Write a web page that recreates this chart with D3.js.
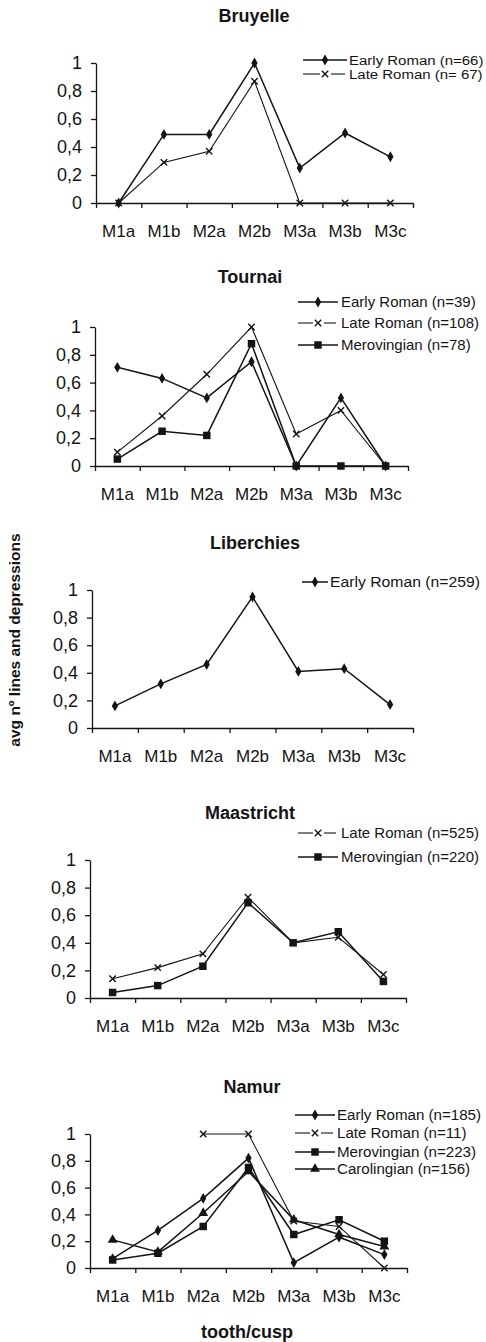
<!DOCTYPE html>
<html><head><meta charset="utf-8">
<script src="https://cdn.jsdelivr.net/npm/d3@7"></script>
<style>
html,body{margin:0;padding:0;background:#fff;}
svg{display:block;font-family:"Liberation Sans",Arial,Helvetica,sans-serif;}
</style>
</head><body>
<svg id="chart" width="486" height="1342"></svg>
<script>
// ---------- DATA ----------
const categories = ["M1a","M1b","M2a","M2b","M3a","M3b","M3c"];
const yTickValues = [0,0.2,0.4,0.6,0.8,1];
const yTickLabels = ["0","0,2","0,4","0,6","0,8","1"];
const siteTitles = ["Bruyelle","Tournai","Liberchies","Maastricht","Namur"];
const yAxisTitle = "avg nº lines and depressions";
const xAxisTitle = "tooth/cusp";

const bruyelleEarlyRoman = [0,0.49,0.49,1.0,0.25,0.50,0.33];
const bruyelleLateRoman  = [0,0.29,0.37,0.87,0,0,0];
const bruyelleLegend = ["Early Roman (n=66)","Late Roman (n= 67)"];

const tournaiEarlyRoman   = [0.71,0.63,0.49,0.75,0,0.49,0];
const tournaiLateRoman    = [0.10,0.36,0.66,1.0,0.23,0.40,0];
const tournaiMerovingian  = [0.05,0.25,0.22,0.88,0,0,0];
const tournaiLegend = ["Early Roman (n=39)","Late Roman (n=108)","Merovingian (n=78)"];

const liberchiesEarlyRoman = [0.16,0.32,0.46,0.95,0.41,0.43,0.17];
const liberchiesLegend = ["Early Roman (n=259)"];

const maastrichtLateRoman   = [0.14,0.22,0.32,0.73,0.40,0.44,0.17];
const maastrichtMerovingian = [0.04,0.09,0.23,0.69,0.40,0.48,0.12];
const maastrichtLegend = ["Late Roman (n=525)","Merovingian (n=220)"];

const namurEarlyRoman   = [0.07,0.28,0.52,0.82,0.04,0.23,0.10];
const namurLateRoman    = [null,null,1.0,1.0,0.35,0.31,0];
const namurMerovingian  = [0.06,0.11,0.31,0.75,0.25,0.36,0.20];
const namurCarolingian  = [0.21,0.12,0.41,0.72,0.36,0.25,0.16];
const namurLegend = ["Early Roman (n=185)","Late Roman (n=11)","Merovingian (n=223)","Carolingian (n=156)"];

// ---------- LAYOUT ----------
const panels = [
  {title: siteTitles[0], tx:254, ty:22, x0:96, x1:413, yTop:63, yBot:203,
   leg:{x:303, x2:347, tx:349, ys:[60,74], fs:13.5, sx:1.11},
   series:[{v:bruyelleEarlyRoman, m:"diamond", w:1.5, lab:bruyelleLegend[0]},
           {v:bruyelleLateRoman, m:"cross", w:1.1, lab:bruyelleLegend[1]}]},
  {title: siteTitles[1], tx:250, ty:283, x0:95, x1:408, yTop:327, yBot:466,
   leg:{x:298, x2:338, tx:341, ys:[302,323,345], fs:15, sx:1},
   series:[{v:tournaiEarlyRoman, m:"diamond", w:1.5, lab:tournaiLegend[0]},
           {v:tournaiLateRoman, m:"cross", w:1.1, lab:tournaiLegend[1]},
           {v:tournaiMerovingian, m:"square", w:1.5, lab:tournaiLegend[2]}]},
  {title: siteTitles[2], tx:255, ty:549, x0:92, x1:413, yTop:590, yBot:728,
   leg:{x:302, x2:328, tx:330, ys:[582], fs:15, sx:1.05},
   series:[{v:liberchiesEarlyRoman, m:"diamond", w:1.5, lab:liberchiesLegend[0]}]},
  {title: siteTitles[3], tx:250, ty:819, x0:90, x1:406, yTop:860, yBot:998,
   leg:{x:298, x2:338, tx:341, ys:[833,857], fs:15, sx:1},
   series:[{v:maastrichtLateRoman, m:"cross", w:1.1, lab:maastrichtLegend[0]},
           {v:maastrichtMerovingian, m:"square", w:1.5, lab:maastrichtLegend[1]}]},
  {title: siteTitles[4], tx:252, ty:1093, x0:90, x1:407, yTop:1134, yBot:1268,
   leg:{x:295, x2:335, tx:337, ys:[1115,1133,1152,1169], fs:14, sx:1.08},
   series:[{v:namurEarlyRoman, m:"diamond", w:1.5, lab:namurLegend[0]},
           {v:namurLateRoman, m:"cross", w:1.1, lab:namurLegend[1]},
           {v:namurMerovingian, m:"square", w:1.5, lab:namurLegend[2]},
           {v:namurCarolingian, m:"triangle", w:1.5, lab:namurLegend[3]}]}
];

const ink = "#141414";
const svg = d3.select("#chart");

function drawMarker(g, type, x, y) {
  if (type === "cross") {
    g.append("path").attr("d", `M${x-3.2},${y-3.2}L${x+3.2},${y+3.2}M${x-3.2},${y+3.2}L${x+3.2},${y-3.2}`)
      .attr("stroke", ink).attr("stroke-width", 1.4).attr("fill", "none");
    return;
  }
  const sym = type === "diamond" ? d3.symbolDiamond : type === "square" ? d3.symbolSquare : d3.symbolTriangle;
  const size = type === "diamond" ? 34 : type === "square" ? 56 : 42;
  g.append("path").attr("d", d3.symbol(sym, size)())
    .attr("transform", `translate(${x},${y})`).attr("fill", ink);
}

panels.forEach(p => {
  const g = svg.append("g");
  const xBand = d3.scaleBand().domain(categories).range([p.x0, p.x1]).padding(0);
  const xEdge = d3.scaleLinear().domain([0, categories.length]).range([p.x0, p.x1]);
  const y = d3.scaleLinear().domain([0, 1]).range([p.yBot, p.yTop]);

  // title
  g.append("text").attr("x", p.tx).attr("y", p.ty).attr("text-anchor", "middle")
    .attr("font-size", 18).attr("font-weight", "bold").attr("fill", ink).text(p.title);

  // y axis
  const ya = g.append("g").attr("transform", `translate(${p.x0},0)`)
    .call(d3.axisLeft(y).tickValues(yTickValues).tickFormat((d, i) => yTickLabels[i])
      .tickSize(5).tickSizeOuter(0).tickPadding(9));
  ya.selectAll("path,line").attr("stroke", ink).attr("stroke-width", 1.3);
  ya.selectAll("text").attr("font-size", 18).attr("fill", ink).attr("font-family", "Liberation Sans, Arial, sans-serif");

  // x axis (ticks at category boundaries)
  const xa = g.append("g").attr("transform", `translate(0,${p.yBot})`)
    .call(d3.axisBottom(xEdge).tickValues(d3.range(categories.length + 1)).tickFormat("")
      .tickSize(5).tickSizeOuter(0));
  xa.selectAll("path,line").attr("stroke", ink).attr("stroke-width", 1.3);

  // x labels at band centers
  const xl = g.append("g").attr("transform", `translate(0,${p.yBot})`)
    .call(d3.axisBottom(xBand).tickSize(0).tickPadding(22));
  xl.select(".domain").remove();
  xl.selectAll("text").attr("font-size", 17).attr("fill", ink).attr("font-family", "Liberation Sans, Arial, sans-serif");

  // series
  p.series.forEach(s => {
    const pts = categories.map((c, i) => ({c, v: s.v[i]}));
    const line = d3.line().defined(d => d.v !== null)
      .x(d => xBand(d.c) + xBand.bandwidth() / 2).y(d => y(d.v));
    g.append("path").datum(pts).attr("d", line).attr("fill", "none")
      .attr("stroke", ink).attr("stroke-width", s.w);
    pts.filter(d => d.v !== null).forEach(d => drawMarker(g, s.m, xBand(d.c) + xBand.bandwidth() / 2, y(d.v)));
  });

  // legend
  p.series.forEach((s, i) => {
    const ly = p.leg.ys[i];
    const mid = (p.leg.x + p.leg.x2) / 2;
    if (s.m === "cross") {
      g.append("line").attr("x1", p.leg.x).attr("x2", mid - 5).attr("y1", ly).attr("y2", ly)
        .attr("stroke", ink).attr("stroke-width", 1.1);
      g.append("line").attr("x1", mid + 6).attr("x2", p.leg.x2 - 2).attr("y1", ly).attr("y2", ly)
        .attr("stroke", ink).attr("stroke-width", 1.1);
    } else {
      g.append("line").attr("x1", p.leg.x).attr("x2", p.leg.x2).attr("y1", ly).attr("y2", ly)
        .attr("stroke", ink).attr("stroke-width", s.w);
    }
    drawMarker(g, s.m, mid, ly);
    g.append("text").attr("transform", `translate(${p.leg.tx},${ly}) scale(${p.leg.sx},1)`)
      .attr("dy", "0.35em")
      .attr("font-size", p.leg.fs).attr("fill", ink).text(s.lab);
  });
});

// axis titles
svg.append("text").attr("transform", "translate(20,640) rotate(-90)")
  .attr("text-anchor", "middle").attr("font-size", 15.5).attr("font-weight", "bold")
  .attr("fill", ink).text(yAxisTitle);
svg.append("text").attr("x", 247).attr("y", 1338).attr("text-anchor", "middle")
  .attr("font-size", 18).attr("font-weight", "bold").attr("fill", ink).text(xAxisTitle);
</script>
</body></html>
